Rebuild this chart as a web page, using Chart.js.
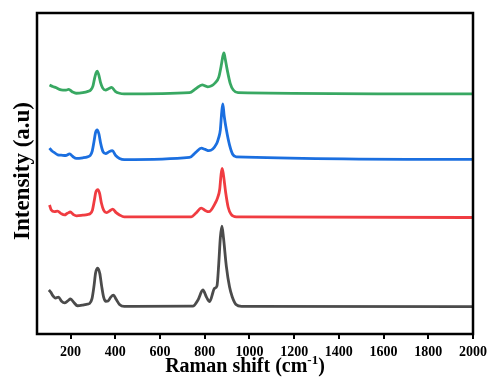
<!DOCTYPE html>
<html>
<head>
<meta charset="utf-8">
<script src="https://cdn.jsdelivr.net/npm/chart.js@4/dist/chart.umd.min.js"></script>
<style>
  html, body { margin: 0; padding: 0; background: #fff; }
  #wrap { width: 490px; height: 378px; }
</style>
</head>
<body>
<div id="wrap"><canvas id="chart"></canvas></div>
<script>
// Raman spectra, stacked (arbitrary intensity units)
const xTicks = [200, 400, 600, 800, 1000, 1200, 1400, 1600, 1800, 2000];

const blackX = [103, 112, 119, 133, 146, 160, 173, 188, 200, 215, 231, 255, 275, 285, 296, 305, 312, 322, 331, 339, 348, 358, 368, 380, 392, 404, 419, 440,
  747, 770, 792, 808, 822, 844, 855, 863, 870, 877, 884, 897, 911, 923, 940, 965, 2000];
const blackY = [13.7, 13, 12.1, 11.2, 11.5, 10.2, 9.7, 10.3, 10.9, 9.8, 8.8, 9.0, 9.3, 9.5, 11, 15, 19, 20.5, 18.8, 15, 11.5, 10.2, 10.3, 11.5, 12.1, 10.8, 9.2, 8.6,
  8.7, 10.6, 13.7, 11.5, 10.1, 14.2, 15, 22, 30, 33.6, 30, 21, 14.7, 11.6, 9.2, 8.6, 8.5];

const redX = [106, 114, 128, 142, 158, 173, 186, 199, 213, 227, 255, 275, 288, 298, 306, 313, 322, 330, 338, 348, 360, 372, 389, 404, 419, 440,
  740, 760, 785, 802, 819, 848, 858, 867, 873, 878, 884, 894, 905, 918, 941, 2000];
const redY = [40.2, 38.6, 38.1, 38.3, 37.5, 37.1, 37.6, 38.0, 37.2, 36.8, 37.0, 37.2, 37.5, 38.6, 41.5, 44.2, 45.0, 43.8, 40.8, 38.6, 37.8, 38.2, 38.9, 37.8, 37.1, 36.5,
  36.5, 37.6, 39.2, 38.5, 38.1, 40.9, 42.5, 45, 49.5, 51.6, 49.5, 44, 39.5, 37.3, 36.5, 36.3];

const blueX = [106, 117, 128, 143, 158, 178, 196, 210, 226, 255, 276, 288, 297, 305, 312, 319, 327, 335, 345, 357, 372, 387, 402, 419, 440,
  732, 760, 785, 802, 819, 854, 862, 870, 876, 881, 887, 897, 911, 925, 941, 2000];
const blueY = [57.9, 57, 56.5, 55.8, 55.7, 55.6, 56.1, 55.3, 54.7, 54.9, 55.2, 55.6, 57, 60, 62.8, 63.6, 62.3, 59.3, 56.8, 56.2, 56.8, 57.1, 55.6, 54.7, 54.3,
  55, 56.6, 57.9, 57.5, 57.1, 59.4, 61, 63.6, 69, 71.7, 68, 63.6, 58.9, 56, 55.2, 54.4];

const greenX = [106, 120, 136, 150, 166, 180, 192, 207, 225, 255, 278, 290, 300, 308, 314, 319, 326, 334, 344, 357, 370, 384, 400, 419, 440,
  732, 760, 789, 802, 814, 848, 863, 875, 881, 886, 891, 901, 914, 928, 949, 2000];
const greenY = [77.6, 77.1, 76.7, 76.2, 76.0, 76.0, 76.2, 75.5, 75.0, 75.2, 75.6, 76.0, 77.2, 79.8, 81.3, 81.9, 80.8, 78.4, 76.6, 76.0, 76.4, 76.8, 75.6, 75.0, 74.8,
  75.2, 76.4, 77.6, 77.3, 77.0, 78.3, 80, 84, 86.5, 87.6, 86, 82.2, 78.1, 76, 75.2, 74.8];

const toPoints = (xs, ys) => xs.map((x, i) => ({ x: x, y: ys[i] }));

const series = [
  { x: blackX, y: blackY, color: '#4b4b4b' },
  { x: redX, y: redY, color: '#f03c41' },
  { x: blueX, y: blueY, color: '#1b6fe0' },
  { x: greenX, y: greenY, color: '#38a862' },
];

const serif = '"Liberation Serif", "Times New Roman", serif';

// frame around the plot + axis titles (the x title needs a superscript)
const decor = {
  id: 'decor',
  afterDraw(chart) {
    const { ctx, chartArea: a } = chart;
    ctx.save();
    ctx.strokeStyle = '#000';
    ctx.lineWidth = 2.5;
    ctx.strokeRect(a.left, a.top, a.right - a.left, a.bottom - a.top);

    ctx.fillStyle = '#000';
    ctx.textBaseline = 'alphabetic';
    ctx.textAlign = 'left';

    // x title: Raman shift (cm^-1)
    const main = 'Raman shift (cm';
    ctx.font = 'bold 20px ' + serif;
    const w1 = ctx.measureText(main).width;
    const w3 = ctx.measureText(')').width;
    ctx.font = 'bold 13px ' + serif;
    const w2 = ctx.measureText('-1').width;
    let x = 245 - (w1 + w2 + w3) / 2;
    const y = 372;
    ctx.font = 'bold 20px ' + serif;
    ctx.fillText(main, x, y);
    x += w1;
    ctx.font = 'bold 13px ' + serif;
    ctx.fillText('-1', x, y - 8);
    x += w2;
    ctx.font = 'bold 20px ' + serif;
    ctx.fillText(')', x, y);

    // y title
    ctx.translate(29, 171);
    ctx.rotate(-Math.PI / 2);
    ctx.textAlign = 'center';
    ctx.font = 'bold 23px ' + serif;
    ctx.fillText('Intensity (a.u)', 0, 0);
    ctx.restore();
  }
};

new Chart(document.getElementById('chart'), {
  type: 'line',
  data: {
    datasets: series.map(s => ({
      data: toPoints(s.x, s.y),
      borderColor: s.color,
      borderWidth: 2.8,
      pointRadius: 0,
      fill: false,
      cubicInterpolationMode: 'monotone',
    })),
  },
  options: {
    responsive: true,
    maintainAspectRatio: false,
    animation: false,
    layout: { padding: { top: 13, right: 17, left: 0, bottom: 0 } },
    plugins: {
      legend: { display: false },
      tooltip: { enabled: false },
    },
    scales: {
      x: {
        type: 'linear',
        min: 50,
        max: 2000,
        afterBuildTicks: scale => { scale.ticks = xTicks.map(v => ({ value: v })); },
        afterFit: scale => {
          scale.height = 44;
          scale.paddingLeft = 0;
          scale.paddingRight = 0;
        },
        grid: { drawOnChartArea: false, tickLength: 5, tickColor: '#000', lineWidth: 2 },
        border: { display: true, color: '#000', width: 2 },
        ticks: {
          color: '#000',
          padding: 5,
          maxRotation: 0,
          autoSkip: false,
          callback: v => String(v),
          font: { family: serif, size: 14, weight: 'bold' },
        },
      },
      y: {
        min: 0,
        max: 100,
        afterFit: scale => { scale.width = 37; },
        grid: { display: false },
        border: { display: true, color: '#000', width: 2 },
        ticks: { display: false },
      },
    },
  },
  plugins: [decor],
});
</script>
</body>
</html>
